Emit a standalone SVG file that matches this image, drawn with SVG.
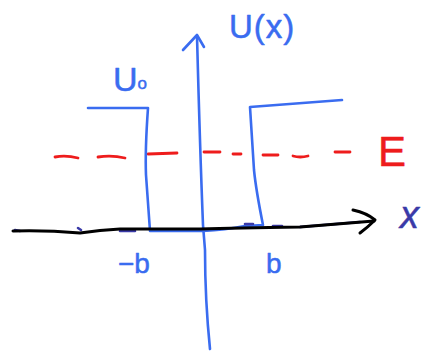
<svg xmlns="http://www.w3.org/2000/svg" width="429" height="354" viewBox="0 0 429 354">
<style>
.b{fill:none;stroke:#3a6cf0;stroke-width:2.6;stroke-linecap:round;stroke-linejoin:round}
.k{fill:none;stroke:#000;stroke-width:3;stroke-linecap:round;stroke-linejoin:round}
.r{fill:none;stroke:#ee1c1c;stroke-width:2.8;stroke-linecap:round}
.d{fill:none;stroke:#3a3aa8;stroke-width:2.6;stroke-linecap:round}
.t{font-family:"Liberation Sans",Arial,sans-serif;stroke-width:0.5;stroke-linejoin:round}
</style>
<rect width="429" height="354" fill="#fff"/>
<g id="energy-line">
<path class="r" d="M55 157 Q66 155 78 158 M98 157 Q112 155 125 158 M148 154 L177 153 M204 152 L220 152 M233 154 L241 154 M263 155 L278 155 M293 156 Q300 158 308 156 M335 152 L350 152"/>
</g>
<g id="potential">
<path class="b" d="M88 108 L148 108 Q145 150 146 175 L150 231 L203 231 Q225 230 245 226 L263 225 Q256 190 254 170 L250 107 L342 100"/>
</g>
<g id="connectors">
<g id="u-axis">
<path class="b" d="M210 349 Q205 300 205 250 L203 225 Q200 150 197 36"/>
<path class="b" d="M183 50 L197 35 L204 47"/>
</g>
<g id="x-axis">
<path class="d" d="M15 230 L20 231 M78 228 L81 230 M120 231 L135 231 M245 224 L253 224 M273 226 L282 226 M300 227 L360 222"/>
<path class="k" d="M13 231 Q45 230 80 233 Q100 230 120 229 L200 229 Q235 228 300 227 L374 221"/>
<path class="k" d="M353 210 Q367 213 375 220 Q368 227 360 233"/>
</g>
</g>
<g id="labels">
<text class="t" x="229" y="38" font-size="33" letter-spacing="1" fill="#3a6cf0" stroke="#3a6cf0">U(x)</text>
<text class="t" x="113" y="91" font-size="34" fill="#3a6cf0" stroke="#3a6cf0">U<tspan font-size="17" dy="-2">o</tspan></text>
<text class="t" x="378" y="166" font-size="42" fill="#ee1c1c" stroke="#ee1c1c">E</text>
<text class="t" x="118" y="273" font-size="28" fill="#3a6cf0" stroke="#3a6cf0">−b</text>
<text class="t" x="266" y="273" font-size="28" fill="#3a6cf0" stroke="#3a6cf0">b</text>
<text class="t" x="400" y="228" font-size="38" font-style="italic" fill="#3a3aa8" stroke="#3a3aa8">x</text>
</g>
</svg>
